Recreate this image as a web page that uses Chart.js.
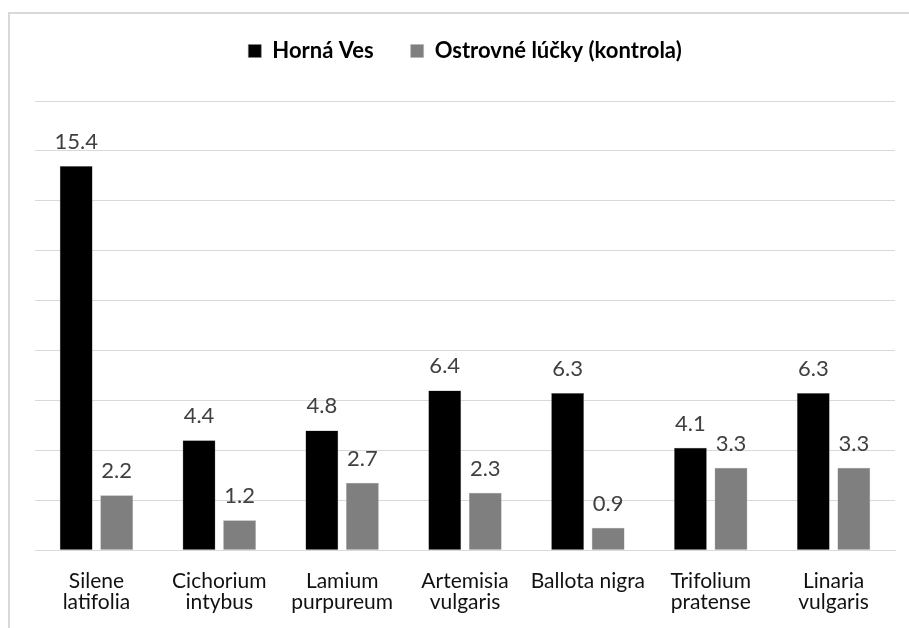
<!DOCTYPE html>
<html>
<head>
<meta charset="utf-8">
<script src="https://cdn.jsdelivr.net/npm/chart.js@4.4.1/dist/chart.umd.min.js"></script>
<style>
  html, body { margin: 0; padding: 0; background: #fff; width: 909px; height: 628px; overflow: hidden; }
  #frame { position: absolute; left: 8px; top: 12px; width: 960px; height: 700px; border: 2px solid #d9d9d9; box-sizing: border-box; }
  #wrap { position: absolute; left: 0; top: 0; width: 909px; height: 633px; }
</style>
</head>
<body>
<div id="frame"></div>
<div id="wrap"><canvas id="c" width="909" height="633"></canvas></div>
<script>
const categories = [["Silene", "latifolia"], ["Cichorium", "intybus"], ["Lamium", "purpureum"], ["Artemisia", "vulgaris"], ["Ballota nigra"], ["Trifolium", "pratense"], ["Linaria", "vulgaris"]];
const seriesNames = ["Horná Ves", "Ostrovné lúčky (kontrola)"];
const hornaVes = [15.4, 4.4, 4.8, 6.4, 6.3, 4.1, 6.3];
const ostrovne = [2.2, 1.2, 2.7, 2.3, 0.9, 3.3, 3.3];
const yMin = 0, yMax = 18, yStep = 2;

const FONT = "Lato, 'Open Sans', sans-serif";

const valueLabels = {
  id: 'valueLabels',
  afterDatasetsDraw(chart) {
    const ctx = chart.ctx;
    ctx.save();
    ctx.font = "22px " + FONT;
    ctx.fillStyle = '#404040';
    ctx.textAlign = 'center';
    ctx.textBaseline = 'alphabetic';
    chart.data.datasets.forEach((ds, di) => {
      const meta = chart.getDatasetMeta(di);
      meta.data.forEach((bar, i) => {
        ctx.fillText(ds.data[i].toFixed(1), bar.x, bar.y - 17);
      });
    });
    ctx.restore();
  }
};

const legendSpace = {
  id: 'legendSpace',
  beforeInit(chart) {
    const lg = chart.legend;
    if (!lg) return;
    const origFit = lg.fit;
    lg.fit = function () {
      origFit.bind(lg)();
      this.height += 29;
    };
  }
};

new Chart(document.getElementById('c'), {
  type: 'bar',
  data: {
    labels: categories,
    datasets: [
      { label: seriesNames[0], data: hornaVes, backgroundColor: '#000000', borderColor: '#7f7f7f', borderWidth: 0.5 },
      { label: seriesNames[1], data: ostrovne, backgroundColor: '#7f7f7f', borderColor: '#b0b0b0', borderWidth: 0.5 }
    ]
  },
  options: {
    responsive: false,
    animation: false,
    devicePixelRatio: 1,
    categoryPercentage: 0.66,
    barPercentage: 0.81,
    layout: { padding: { left: 35, right: 14, top: 3, bottom: 0 } },
    plugins: {
      legend: {
        position: 'top',
        labels: {
          font: { family: FONT, size: 22, weight: 'bold' },
          color: '#000',
          boxWidth: 13,
          boxHeight: 13,
          padding: 37
        }
      },
      tooltip: { enabled: false }
    },
    scales: {
      x: {
        grid: { display: false, drawTicks: false },
        border: { display: true, color: '#d9d9d9', width: 1 },
        ticks: { font: { family: FONT, size: 21, lineHeight: 1.02 }, color: '#111', padding: 20, maxRotation: 0, autoSkip: false }
      },
      y: {
        min: yMin, max: yMax,
        grid: { color: '#d9d9d9', drawTicks: false, lineWidth: 1 },
        border: { display: false },
        ticks: { display: false, stepSize: yStep }
      }
    }
  },
  plugins: [valueLabels, legendSpace]
});
</script>
</body>
</html>
